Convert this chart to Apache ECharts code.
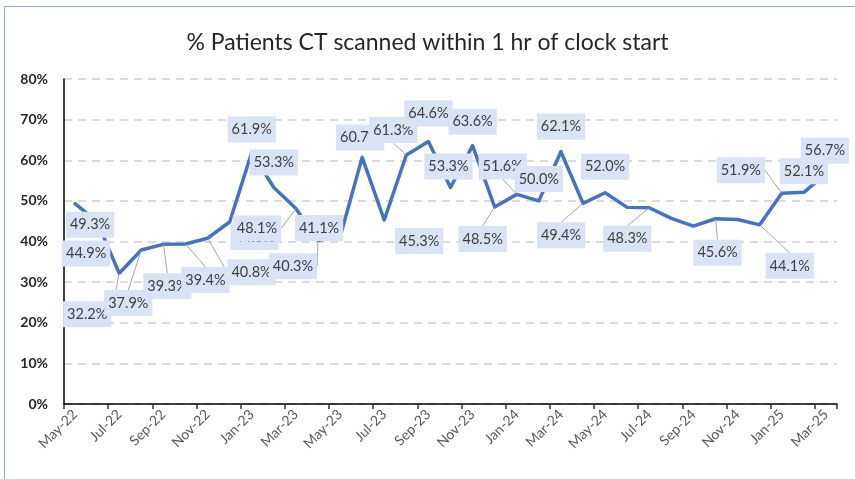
<!DOCTYPE html>
<html><head><meta charset="utf-8">
<script src="https://cdn.jsdelivr.net/npm/echarts@6/dist/echarts.min.js"></script>
<style>
html,body{margin:0;padding:0;background:#fff;overflow:hidden;}
#frame{position:absolute;left:4px;top:6px;width:900px;height:520px;border:1px solid #8eaadb;box-sizing:border-box;}
#chart{position:absolute;left:0;top:0;width:855px;height:479px;}
</style></head><body>
<div id="frame"></div>
<div id="chart"></div>
<script>
var titleText = '% Patients CT scanned within 1 hr of clock start';
var months = ['May-22','Jun-22','Jul-22','Aug-22','Sep-22','Oct-22','Nov-22','Dec-22',
  'Jan-23','Feb-23','Mar-23','Apr-23','May-23','Jun-23','Jul-23','Aug-23','Sep-23','Oct-23','Nov-23','Dec-23',
  'Jan-24','Feb-24','Mar-24','Apr-24','May-24','Jun-24','Jul-24','Aug-24','Sep-24','Oct-24','Nov-24','Dec-24',
  'Jan-25','Feb-25','Mar-25'];
var values = [49.3, 44.9, 32.2, 37.9, 39.3, 39.4, 40.8, 44.8,
  61.9, 53.3, 48.1, 40.3, 41.1, 60.7, 45.3, 61.3, 64.6, 53.3, 63.6, 48.5,
  51.6, 50.0, 62.1, 49.4, 52.0, 48.4, 48.3, 45.7, 43.8, 45.6, 45.4, 44.1,
  51.9, 52.1, 56.7];
var yTicks = {min: 0, max: 80, interval: 10};
// label box centre offset from its point [dx, dy, leader line]; null = label not shown
var labelPlacement = [
  [15,21,0],[-11,32,0],[-32,41,1],[-13,53,1],[4,42,1],[20,36,1],[44,34,1],[25,15,0],
  [0,-23,0],[0,-25,0],[-39,20,1],[-25,26,1],[-21,-9,0],[-2,-20,0],[35,21,0],[-13,-25,1],
  [0,-28,0],[-2,-21,0],[0,-24,0],[-12,32,1],[-14,-28,1],[0,-22,0],[0,-25,0],[-22,32,1],
  [0,-26,0],null,[-22,31,1],null,null,[2,34,1],null,[30,41,1],
  [-41,-23,1],[0,-21,0],[-1,-23,0]
];

var seriesData = values.map(function (v, i) {
  var p = labelPlacement[i];
  return {
    value: v,
    label: {show: !!p},
    labelLine: {show: !!(p && p[2])}
  };
});

var chart = echarts.init(document.getElementById('chart'), null, {renderer: 'canvas'});
chart.setOption({
  animation: false,
  title: {
    text: titleText, left: 'center', top: 26,
    textStyle: {fontFamily: 'Lato', fontSize: 23, fontWeight: 'normal', color: '#262626'}
  },
  grid: {left: 64, right: 18, top: 79, bottom: 75, containLabel: false},
  xAxis: {
    type: 'category', data: months, boundaryGap: true,
    axisLine: {lineStyle: {color: '#000', width: 1.5}},
    axisTick: {show: true, interval: 1, length: 5, lineStyle: {color: '#333', width: 1.5}},
    axisLabel: {interval: 1, rotate: 45, margin: 8, fontFamily: 'Lato', fontSize: 14, color: '#595959'},
    splitLine: {show: false}
  },
  yAxis: {
    type: 'value', min: yTicks.min, max: yTicks.max, interval: yTicks.interval,
    axisLine: {show: true, lineStyle: {color: '#000', width: 1.5}},
    axisTick: {show: false},
    axisLabel: {formatter: '{value}%', fontFamily: 'Lato', fontSize: 14, fontWeight: 'bold', color: '#262626', margin: 16},
    splitLine: {show: true, lineStyle: {color: '#d0d0d0', width: 1.5, type: [8, 6]}}
  },
  series: [{
    type: 'line', data: seriesData,
    symbol: 'circle', symbolSize: 1, showSymbol: true,
    itemStyle: {color: 'rgba(0,0,0,0)', borderWidth: 0},
    lineStyle: {color: '#4472c4', width: 3.5, cap: 'round', join: 'round'},
    emphasis: {disabled: true},
    label: {
      show: true, position: 'inside',
      formatter: function (p) { return p.value.toFixed(1) + '%'; },
      fontFamily: 'Lato', fontSize: 14.5, color: '#404040',
      backgroundColor: '#dae3f3', padding: [6, 4, 5, 4]
    },
    labelLine: {show: false, lineStyle: {color: '#a6a6a6', width: 1}},
    labelLayout: function (p) {
      var s = labelPlacement[p.dataIndex];
      if (!s) return {};
      var cx = p.rect.x + p.rect.width / 2, cy = p.rect.y + p.rect.height / 2;
      var lx = p.labelRect.x + p.labelRect.width / 2, ly = p.labelRect.y + p.labelRect.height / 2;
      return {dx: cx + s[0] - lx, dy: cy + s[1] - ly};
    }
  }]
});
</script>
</body></html>
